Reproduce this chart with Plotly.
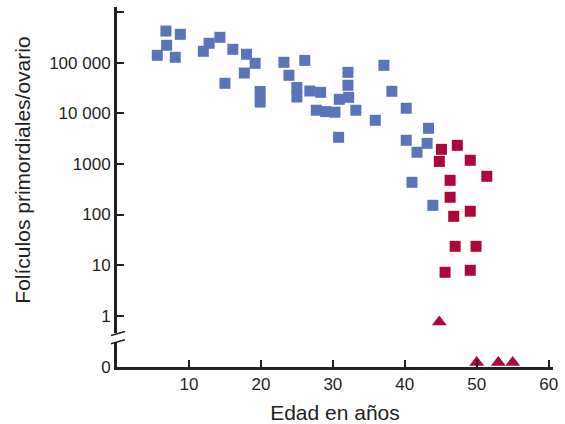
import plotly.graph_objects as go

# ---- data ----
blue_age = [5.6, 6.8, 6.9, 8.1, 8.8, 12.0, 12.8, 14.3, 15.0, 16.1, 18.0, 17.7, 19.2,
            19.9, 19.9, 23.2, 23.9, 25.0, 25.0, 26.1, 26.8, 27.7, 28.3, 29.0, 30.3,
            30.8, 30.9, 32.1, 32.1, 32.2, 33.2, 37.1, 38.2, 35.9, 40.2, 43.3, 40.2,
            43.1, 41.7, 41.0, 43.9]
blue_val = [140000, 423000, 221000, 128000, 364000, 168000, 242000, 318000, 39200, 184000,
            147000, 62600, 97300, 27000, 16700, 102000, 56400, 32300, 21000, 111000,
            27600, 11500, 26000, 10800, 10500, 3360, 18900, 64600, 35800, 20700, 11500,
            88900, 27200, 7270, 12600, 5060, 2930, 2550, 1700, 433, 152]

red_age = [45.1, 47.3, 44.8, 49.1, 51.4, 46.3, 46.3, 46.8, 49.1, 47.0, 49.9, 45.6, 49.1]
red_val = [1940, 2330, 1120, 1180, 569, 474, 219, 92, 116, 23.5, 23.5, 7.2, 7.9]

tri_age = [44.8]
tri_val = [0.75]
zero_age = [50.0, 53.0, 55.0]
zero_val = [0, 0, 0]

y_tickvals = [1, 10, 100, 1000, 10000, 100000, 1000000]
y_ticktext = ["1", "10", "100", "1000", "10 000", "100 000", ""]
x_tickvals = [10, 20, 30, 40, 50, 60]

BLUE = "#5a74ba"
RED = "#ae0639"
INK = "#231f20"
FONT = "Liberation Sans, Arial, sans-serif"

W, H = 565, 424
L, R, T, B = 117, 12, 7, 57
PW, PH = W - L - R, H - T - B

def px_x(p):
    return (p - L) / PW

def px_y(p):
    return (H - B - p) / PH

fig = go.Figure()
fig.add_trace(go.Scatter(x=blue_age, y=blue_val, mode="markers",
                         marker=dict(symbol="square", size=11, color=BLUE),
                         xaxis="x", yaxis="y", cliponaxis=False))
fig.add_trace(go.Scatter(x=red_age, y=red_val, mode="markers",
                         marker=dict(symbol="square", size=11, color=RED),
                         xaxis="x", yaxis="y", cliponaxis=False))
fig.add_trace(go.Scatter(x=tri_age, y=tri_val, mode="markers",
                         marker=dict(symbol="triangle-up", size=13, color=RED),
                         xaxis="x", yaxis="y", cliponaxis=False))
fig.add_trace(go.Scatter(x=zero_age, y=zero_val, mode="markers",
                         marker=dict(symbol="triangle-up", size=13, color=RED),
                         xaxis="x", yaxis="y2", cliponaxis=False))

# break marks on the y axis
shapes = []
for (x0, y0, x1, y1) in [(111, 335.5, 125, 331.5), (111, 343.8, 125, 339.8)]:
    shapes.append(dict(type="line", xref="paper", yref="paper",
                       x0=px_x(x0), y0=px_y(y0), x1=px_x(x1), y1=px_y(y1),
                       line=dict(color=INK, width=1.5)))

fig.update_layout(
    width=W, height=H,
    margin=dict(l=L, r=R, t=T, b=B, autoexpand=False),
    paper_bgcolor="white", plot_bgcolor="white",
    showlegend=False, hovermode=False,
    font=dict(family=FONT, color=INK, size=17),
    shapes=shapes,
    xaxis=dict(range=[0, 60.6], tickvals=x_tickvals, ticks="inside", ticklen=7,
               tickwidth=1.5, tickcolor=INK, showline=True, linecolor=INK, linewidth=3,
               showgrid=False, zeroline=False, anchor="y2", automargin=False,
               tickfont=dict(size=17, color=INK),
               title=dict(text="Edad en años", font=dict(size=21, color=INK), standoff=12)),
    yaxis=dict(type="log", range=[-0.342, 6.101], domain=[px_y(333), 1],
               tickvals=y_tickvals, ticktext=y_ticktext, ticks="inside", ticklen=7,
               tickwidth=1.5, tickcolor=INK, showline=True, linecolor=INK, linewidth=3,
               showgrid=False, zeroline=False, anchor="x", automargin=False,
               tickfont=dict(size=17, color=INK),
               title=dict(text="Folículos primordiales/ovario",
                          font=dict(size=21, color=INK), standoff=13)),
    yaxis2=dict(range=[-0.216, 1], domain=[0, px_y(341.7)], tickvals=[0],
                ticktext=["0"], ticks="", showline=True, linecolor=INK, linewidth=3,
                showgrid=False, zeroline=False, anchor="x", ticklabelshift=5,
                automargin=False, tickfont=dict(size=17, color=INK)),
)

fig.write_html("out.html", config={"displayModeBar": False},
               post_script="document.body.style.margin='0px';document.body.style.padding='0px';")
